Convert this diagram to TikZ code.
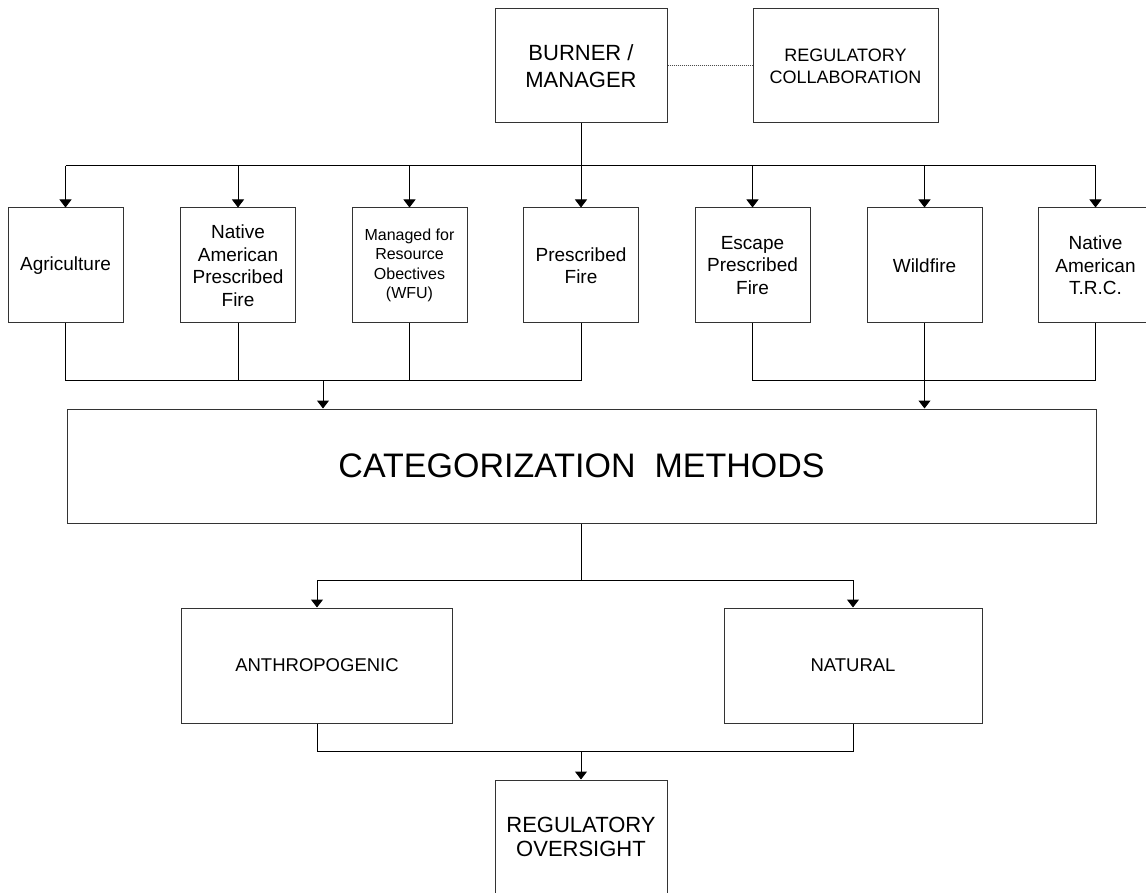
\documentclass[tikz,border=0pt]{standalone}
\usepackage{fontspec}
\setmainfont{Liberation Sans}
\usetikzlibrary{arrows.meta}
\tikzset{
  box/.style={draw=black!80, line width=1pt, inner sep=0pt, align=center, fill=white},
  rowbox/.style={box, minimum width=115pt, minimum height=115pt, font=\fontsize{19}{22.5}\selectfont},
  conn/.style={draw=black, line width=1pt},
  arr/.style={conn, -{Triangle[width=12pt,length=8pt]}},
  dots/.style={draw=black!70, line width=1pt, dash pattern=on 1pt off 1pt}
}
\begin{document}
\begin{tikzpicture}[x=1pt,y=-1pt]
\clip (0,0) rectangle (1146,893);
\fill[white] (0,0) rectangle (1146,893);

\node[box, minimum width=172pt, minimum height=114pt, font=\fontsize{22}{27}\selectfont] (burner) at (581,66) {BURNER /\\MANAGER};
\node[box, minimum width=185pt, minimum height=114pt, font=\fontsize{18}{22}\selectfont] (regcol) at (845.5,66) {REGULATORY\\COLLABORATION};

\node[rowbox] (agri) at (65.5,265.5) {Agriculture};
\node[rowbox] (nap) at (238,265.5) {Native\\American\\Prescribed\\Fire};
\node[rowbox, font=\fontsize{16}{19.3}\selectfont] (wfu) at (409.5,265.5) {Managed for\\Resource\\Obectives\\(WFU)};
\node[rowbox] (pf) at (581,265.5) {Prescribed\\Fire};
\node[rowbox] (epf) at (752.5,265.5) {Escape\\Prescribed\\Fire};
\node[rowbox] (wild) at (924.5,265.5) {Wildfire};
\node[rowbox] (trc) at (1095.5,265.5) {Native\\American\\T.R.C.};

\node[box, minimum width=1029pt, minimum height=114pt, font=\fontsize{34}{40}\selectfont] (cat) at (581.5,466) {CATEGORIZATION~~METHODS};

\node[box, minimum width=271pt, minimum height=115pt, font=\fontsize{18.5}{22}\selectfont] (anth) at (317,665.5) {ANTHROPOGENIC};
\node[box, minimum width=258pt, minimum height=115pt, font=\fontsize{18.5}{22}\selectfont] (nat) at (853,665.5) {NATURAL};

\node[box, minimum width=172pt, minimum height=114pt, font=\fontsize{22}{23.5}\selectfont] (ro) at (581,837) {REGULATORY\\OVERSIGHT};

% dotted link
\draw[dots] (burner.east) -- (regcol.west);

% top bus
\coordinate (busT) at (581,166);
\draw[conn] (burner.south) -- (busT);
\draw[conn] (busT -| agri) -- (busT -| trc);
\foreach \n in {agri,nap,wfu,pf,epf,wild,trc}
  \draw[arr] (busT -| \n) -- (\n.north);

% left merge
\coordinate (mL) at (323,380);
\draw[conn] (agri.south) -- (agri.south |- mL) -- (pf.south |- mL) -- (pf.south);
\draw[conn] (nap.south) -- (nap.south |- mL);
\draw[conn] (wfu.south) -- (wfu.south |- mL);
\draw[arr] (mL) -- (mL |- cat.north);

% right merge
\coordinate (mR) at (924.5,380);
\draw[conn] (epf.south) -- (epf.south |- mR) -- (trc.south |- mR) -- (trc.south);
\draw[arr] (wild.south) -- (wild.south |- cat.north);

% categorization split
\coordinate (bus2) at (581,580);
\draw[conn] (cat.south -| bus2) -- (bus2);
\draw[conn] (bus2 -| anth) -- (bus2 -| nat);
\draw[arr] (bus2 -| anth) -- (anth.north);
\draw[arr] (bus2 -| nat) -- (nat.north);

% bottom merge
\coordinate (bus3) at (581,751);
\draw[conn] (anth.south) -- (anth.south |- bus3) -- (nat.south |- bus3) -- (nat.south);
\draw[arr] (bus3) -- (ro.north);
\end{tikzpicture}
\end{document}
